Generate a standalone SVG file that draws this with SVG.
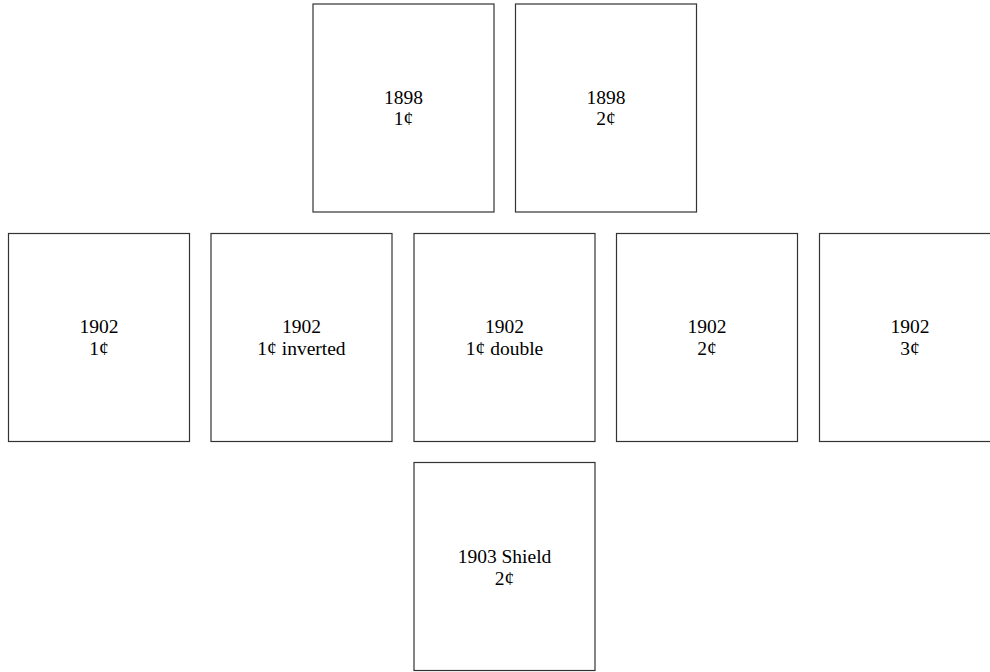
<svg xmlns="http://www.w3.org/2000/svg" width="990" height="672" viewBox="0 0 990 672">
<style>
.box{fill:#fff;stroke:#333;stroke-width:1.2}
.t{font-family:"Liberation Serif","Times New Roman",serif;font-size:19.5px;fill:#000;text-anchor:middle}
</style>
<rect width="990" height="672" fill="#fff"/>
<g id="n1898-1"><rect class="box" x="313" y="4" width="181" height="208"/><text class="t" x="403.5" y="103.5">1898</text><text class="t" x="403.5" y="125">1¢</text></g>
<g id="n1898-2"><rect class="box" x="515.5" y="4" width="181" height="208"/><text class="t" x="606" y="103.5">1898</text><text class="t" x="606" y="125">2¢</text></g>
<g id="n1902-1"><rect class="box" x="8.5" y="233.5" width="181" height="208"/><text class="t" x="99" y="333">1902</text><text class="t" x="99" y="355">1¢</text></g>
<g id="n1902-1i"><rect class="box" x="211" y="233.5" width="181" height="208"/><text class="t" x="301.5" y="333">1902</text><text class="t" x="301.5" y="355">1¢ inverted</text></g>
<g id="n1902-1d"><rect class="box" x="414" y="233.5" width="181" height="208"/><text class="t" x="504.5" y="333">1902</text><text class="t" x="504.5" y="355">1¢ double</text></g>
<g id="n1902-2"><rect class="box" x="616.5" y="233.5" width="181" height="208"/><text class="t" x="707" y="333">1902</text><text class="t" x="707" y="355">2¢</text></g>
<g id="n1902-3"><rect class="box" x="819.5" y="233.5" width="181" height="208"/><text class="t" x="910" y="333">1902</text><text class="t" x="910" y="355">3¢</text></g>
<g id="n1903"><rect class="box" x="414" y="462.5" width="181" height="208"/><text class="t" x="504.5" y="563">1903 Shield</text><text class="t" x="504.5" y="585">2¢</text></g>
<g id="connectors"></g>
</svg>
